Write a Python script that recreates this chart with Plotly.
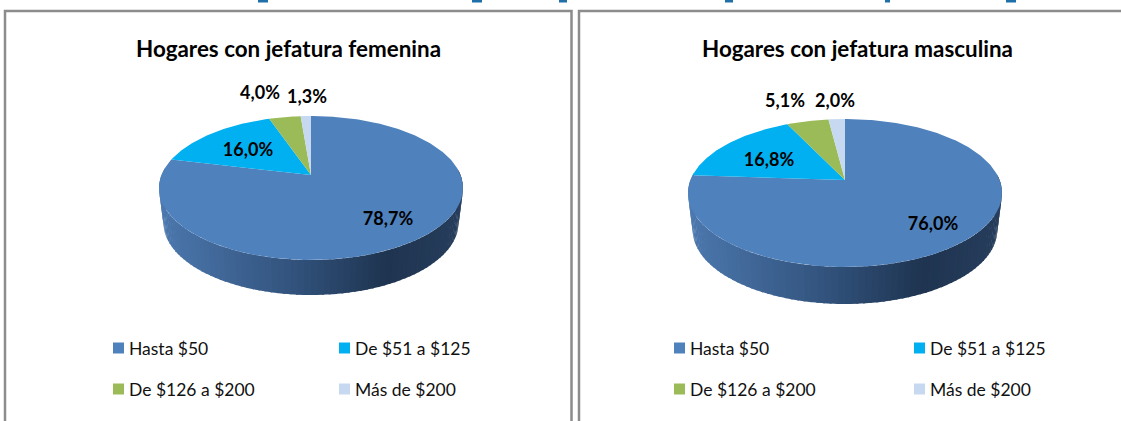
import math
import plotly.graph_objects as go

categorias = ["Hasta $50", "De $51 a $125", "De $126 a $200", "Más de $200"]
valores_femenina = [78.7, 16.0, 4.0, 1.3]
valores_masculina = [76.0, 16.8, 5.1, 2.0]
titulo_femenina = "Hogares con jefatura femenina"
titulo_masculina = "Hogares con jefatura masculina"

COLORES = ["#4F81BD", "#00B0F0", "#9BBB59", "#C6D9F0"]
FONT = "Lato"
W, H = 1121, 421

# pie geometry in page pixels: apex, half width, distance to far / near rim, rim depth
GEO_F = dict(cx=311, cy=175, rx=152, far=59, near=85, depth=35)
GEO_M = dict(cx=845, cy=180, rx=157, far=61, near=87, depth=37)
LABELS_F = [(388, 220), (248, 151), (260, 94), (307, 98)]
LABELS_M = [(933, 225), (769, 161), (785, 102), (835, 102)]
LEGEND_F = [(118.5, 348), (344.5, 348), (118.5, 389), (344.5, 389)]
LEGEND_M = [(679.5, 348), (919.5, 348), (679.5, 389), (919.5, 389)]

GRAD = [(0.0, (76, 120, 174)), (0.45, (50, 83, 125)), (0.76, (30, 52, 80)), (1.0, (38, 61, 92))]


def proj(g, theta):
    """Perspective projection of a point of the pie's rim; theta clockwise from top."""
    k = (g["near"] - g["far"]) / (g["near"] + g["far"])
    b = g["far"] * (1 + k)
    a = g["rx"] * math.sqrt(1 - k * k)
    u, v = math.sin(theta), math.cos(theta)
    w = 1 + k * v
    return g["cx"] + a * u / w, g["cy"] - b * v / w


def grad_color(t):
    for (t0, c0), (t1, c1) in zip(GRAD, GRAD[1:]):
        if t <= t1:
            f = (t - t0) / (t1 - t0)
            return "rgb(%d,%d,%d)" % tuple(round(p + (q - p) * f) for p, q in zip(c0, c1))
    return "rgb(%d,%d,%d)" % GRAD[-1][1]


def pie(fig, valores, g, label_pos):
    total = sum(valores)
    # rim of the pie (first slice is the only one facing the viewer)
    n = 90
    t0, t1 = math.radians(85), math.radians(275)
    for i in range(n):
        a0 = t0 + (t1 - t0) * i / n
        a1 = t0 + (t1 - t0) * (i + 1.3) / n
        xs, ys = [], []
        for a in (a0, a1):
            x, y = proj(g, a)
            xs.append(x)
            ys.append(y)
        for a in (a1, a0):
            x, y = proj(g, a)
            xs.append(g["cx"] + (x - g["cx"]) * 0.97)
            ys.append(y + g["depth"])
        xs.append(xs[0])
        ys.append(ys[0])
        tx = (proj(g, a0)[0] - (g["cx"] - g["rx"])) / (2 * g["rx"])
        col = grad_color(max(0.0, min(1.0, tx)))
        fig.add_trace(go.Scatter(x=xs, y=ys, mode="lines", fill="toself", fillcolor=col,
                                 line=dict(width=0), hoverinfo="skip", showlegend=False))
    # top face, one wedge per value
    acum = 0.0
    for v, col in zip(valores, COLORES):
        a0 = 2 * math.pi * acum / total
        acum += v
        a1 = 2 * math.pi * acum / total
        m = max(3, int(v * 4))
        pts = [proj(g, a0 + (a1 - a0) * j / m) for j in range(m + 1)]
        xs = [g["cx"]] + [p[0] for p in pts] + [g["cx"]]
        ys = [g["cy"]] + [p[1] for p in pts] + [g["cy"]]
        fig.add_trace(go.Scatter(x=xs, y=ys, mode="lines", fill="toself", fillcolor=col,
                                 line=dict(width=0), hoverinfo="skip", showlegend=False))
    # data labels
    fig.add_trace(go.Scatter(
        x=[p[0] for p in label_pos], y=[p[1] for p in label_pos], mode="text",
        text=[f"{v:.1f}".replace(".", ",") + "%" for v in valores],
        textposition="middle center",
        textfont=dict(family=FONT, size=18, color="#000000", weight="bold"),
        hoverinfo="skip", showlegend=False))


def leyenda(fig, pos):
    for cat, col, (x, y) in zip(categorias, COLORES, pos):
        fig.add_trace(go.Scatter(
            x=[x], y=[y], mode="markers", marker=dict(symbol="square", size=11, color=col),
            hoverinfo="skip", showlegend=False))
        fig.add_annotation(x=x + 8.5, y=y, text=cat, showarrow=False, xanchor="left", yanchor="middle",
                           font=dict(family=FONT, size=17.5, color="#111111"))


fig = go.Figure()
pie(fig, valores_femenina, GEO_F, LABELS_F)
pie(fig, valores_masculina, GEO_M, LABELS_M)
leyenda(fig, LEGEND_F)
leyenda(fig, LEGEND_M)

for txt, x in ((titulo_femenina, 288), (titulo_masculina, 857)):
    fig.add_annotation(x=x, y=48, text=txt, showarrow=False, xanchor="center", yanchor="middle",
                       font=dict(family=FONT, size=22.4, color="#000000", weight="bold"))

# remnants of the heading that is cropped off above the panels (illegible slivers, not text)
for x0, x1 in ((258, 268), (472, 482), (559, 567), (725, 733), (885, 890), (1006, 1016)):
    fig.add_shape(type="rect", x0=x0, x1=x1, y0=0, y1=2.5, fillcolor="#1F6FA8", line=dict(width=0))

# panel frames: open at the bottom, the second one also at the right
FRAME = "#8C8C8C"
for path in (f"M5,{H} L5,11 L571.5,11 L571.5,{H}", f"M579,{H} L579,11 L{W},11"):
    fig.add_shape(type="path", path=path, line=dict(color=FRAME, width=2.5), layer="below")

fig.update_layout(
    width=W, height=H, margin=dict(l=0, r=0, t=0, b=0),
    paper_bgcolor="#FFFFFF", plot_bgcolor="#FFFFFF", showlegend=False,
    xaxis=dict(range=[0, W], visible=False, fixedrange=True),
    yaxis=dict(range=[H, 0], visible=False, fixedrange=True),
)
fig.write_html("out.html", config=dict(displayModeBar=False),
               post_script="document.body.style.margin='0';document.body.style.overflow='hidden';")
